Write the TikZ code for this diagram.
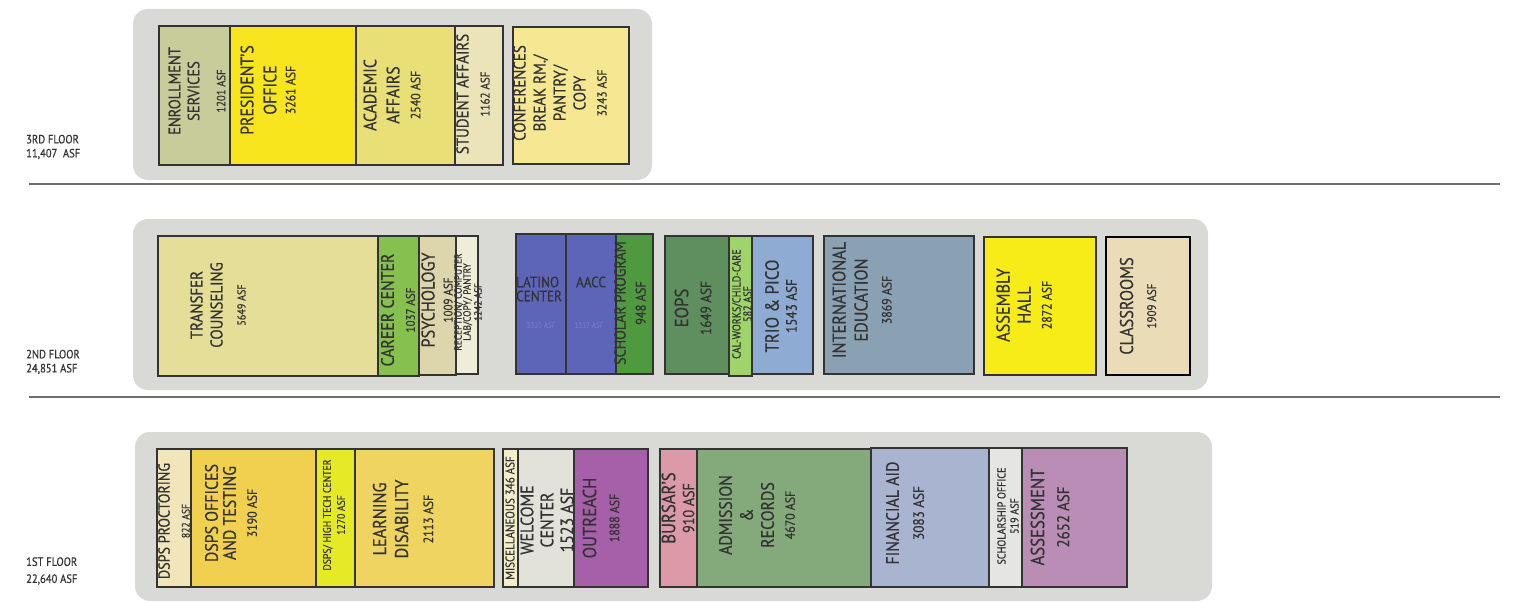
\documentclass[tikz,border=0pt]{standalone}
\usepackage{fontspec}
\setmainfont{PT Sans}[FakeStretch=0.88,FakeBold=0.6]
\newcommand{\fz}[2]{\fontsize{#1}{#2}\selectfont}
\definecolor{bgGray}{HTML}{D9D9D6}
\definecolor{lineGray}{HTML}{6E6E6E}
\definecolor{txt}{HTML}{333333}
\definecolor{edge}{HTML}{333333}
\definecolor{cEnr}{HTML}{C8CB9A}
\definecolor{cPres}{HTML}{F8E51E}
\definecolor{cAcad}{HTML}{E8DF76}
\definecolor{cStud}{HTML}{EBE4B8}
\definecolor{cConf}{HTML}{F6E892}
\definecolor{cTrans}{HTML}{E5DE98}
\definecolor{cCareer}{HTML}{86C04F}
\definecolor{cPsych}{HTML}{DDD5AB}
\definecolor{cRecep}{HTML}{EFECD8}
\definecolor{cLatino}{HTML}{5D65B9}
\definecolor{cLatinoT}{HTML}{7077C2}
\definecolor{cScholar}{HTML}{4F9A3F}
\definecolor{cEops}{HTML}{5F8E5F}
\definecolor{cCalw}{HTML}{9FD46B}
\definecolor{cTrio}{HTML}{8EABD4}
\definecolor{cIntl}{HTML}{8AA1B3}
\definecolor{cAssembly}{HTML}{F8EC18}
\definecolor{cClass}{HTML}{EBDCB8}
\definecolor{cProct}{HTML}{F0E6BA}
\definecolor{cDspsOff}{HTML}{F1D04F}
\definecolor{cHitech}{HTML}{E6EA26}
\definecolor{cLearn}{HTML}{F0D461}
\definecolor{cMisc}{HTML}{F2EECB}
\definecolor{cWelcome}{HTML}{E2E2DA}
\definecolor{cOutreach}{HTML}{A660A9}
\definecolor{cBursar}{HTML}{DC9AA8}
\definecolor{cAdmiss}{HTML}{84A97B}
\definecolor{cFinaid}{HTML}{A8B4D0}
\definecolor{cScholOff}{HTML}{E5E5E1}
\definecolor{cAssess}{HTML}{BA8DB7}
\begin{document}
\begin{tikzpicture}[x=1pt,y=-1pt,
  floorbg/.style={fill=bgGray, rounded corners=15pt},
  room/.style={draw=edge, line width=1.1pt},
  lbl/.style={rotate=90, align=center, text=txt, inner sep=0pt},
  hlbl/.style={align=left, text=txt, inner sep=0pt},
  floorlbl/.style={align=left, text=txt, inner sep=0pt, anchor=west, font=\fz{12}{14}},
  sep/.style={draw=lineGray, line width=2pt}]
\useasboundingbox (0,0) rectangle (1516,602);
\fill[white] (0,0) rectangle (1516,602);

% floor labels and separators
\node[floorlbl] (f3) at (26,147) {3RD FLOOR\\11,407~ ASF};
\node[floorlbl] (f2) at (26,362) {2ND FLOOR\\24,851 ASF};
\node[floorlbl] (f1) at (26,571) {1ST FLOOR\\[3pt]22,640 ASF};
\coordinate (s1a) at (29,184); \coordinate (s1b) at (1500,184);
\coordinate (s2a) at (29,397); \coordinate (s2b) at (1500,397);
\draw[sep] (s1a) -- (s1b);
\draw[sep] (s2a) -- (s2b);

% floor backgrounds
\fill[floorbg] (133,9) rectangle (652,180);
\fill[floorbg] (133,219) rectangle (1208,390);
\fill[floorbg] (135,432) rectangle (1212,601);

% ---------- 3rd floor ----------
\draw[room, fill=cEnr]  (159,26) rectangle (230,165);
\draw[room, fill=cPres] (230,26) rectangle (356,165);
\draw[room, fill=cAcad] (356,26) rectangle (455,165);
\draw[room, fill=cStud] (455,26) rectangle (503,165);
\draw[room, fill=cConf] (513,27) rectangle (629,164);

\node[lbl, font=\fz{16.5}{19}] (enr) at (197,91) {ENROLLMENT\\SERVICES\\[7pt]\fz{12}{19}1201 ASF};
\node[lbl, font=\fz{18}{23}] (pres) at (268,90) {PRESIDENT'S\\OFFICE\\[-4pt]\fz{13.5}{23}3261 ASF};
\node[lbl, font=\fz{18}{23}] (acad) at (392,95) {ACADEMIC\\AFFAIRS\\[-2pt]\fz{13.5}{23}2540 ASF};
\node[lbl, font=\fz{17}{21}] (stud) at (473,94) {STUDENT AFFAIRS\\[0pt]\fz{12.5}{21}1162 ASF};
\node[lbl, font=\fz{17}{20}] (conf) at (560,93) {CONFERENCES\\BREAK RM./\\PANTRY/\\COPY\\[1pt]\fz{13}{20}3243 ASF};

% ---------- 2nd floor ----------
\draw[room, fill=cTrans]   (158,236) rectangle (378,376);
\draw[room, fill=cCareer]  (378,236) rectangle (419,376);
\draw[room, fill=cPsych]   (419,236) rectangle (456,375);
\draw[room, fill=cRecep]   (456,236) rectangle (478,374);
\draw[room, fill=cLatino]  (516,234) rectangle (566,374);
\draw[room, fill=cLatino]  (566,234) rectangle (616,374);
\draw[room, fill=cScholar] (616,234) rectangle (653,374);
\draw[room, fill=cEops]    (665,236) rectangle (729,374);
\draw[room, fill=cCalw]    (729,236) rectangle (752,376);
\draw[room, fill=cTrio]    (752,236) rectangle (813,374);
\draw[room, fill=cIntl]    (824,236) rectangle (974,374);
\draw[room, fill=cAssembly](984,237) rectangle (1096,375);
\draw[draw=black, line width=2pt, fill=cClass] (1106,237) rectangle (1190,375);

\node[lbl, font=\fz{17}{20}] (trans) at (218,305) {TRANSFER\\COUNSELING\\[3pt]\fz{11.5}{20}5649 ASF};
\node[lbl, font=\fz{18}{21}] (career) at (398,310) {CAREER CENTER\\\fz{12.5}{21}1037 ASF};
\node[lbl, font=\fz{18.5}{18}] (psych) at (437,300) {PSYCHOLOGY\\\fz{12.5}{18}1009 ASF};
\node[lbl, font=\fz{10.5}{9}] (recep) at (468,302) {RECEPTION/ COMPUTER\\LAB/COPY/ PANTRY\\[2pt]1242 ASF};
\node[hlbl, anchor=west, font=\fz{15}{14}] (latino) at (516,289) {LATINO\\CENTER};
\node[hlbl, anchor=center, font=\fz{15}{14}] (aacc) at (591,282) {AACC};
\node[hlbl, anchor=center, text=cLatinoT, font=\fz{8}{9}] (latinoa) at (541,325) {3320 ASF};
\node[hlbl, anchor=center, text=cLatinoT, font=\fz{8}{9}] (aacca) at (589,325) {1317 ASF};
\node[lbl, font=\fz{16}{20}] (schol) at (630,303) {SCHOLAR PROGRAM\\\fz{14}{20}948 ASF};
\node[lbl, font=\fz{19}{23}] (eops) at (693,308) {EOPS\\\fz{15}{23}1649 ASF};
\node[lbl, font=\fz{11.5}{11}] (calw) at (742,304) {CAL-WORKS/CHILD-CARE\\582 ASF};
\node[lbl, font=\fz{19}{18}] (trio) at (781,306) {TRIO \& PICO\\\fz{15}{18}1543 ASF};
\node[lbl, font=\fz{18.5}{22}] (intl) at (862,300) {INTERNATIONAL\\EDUCATION\\[2pt]\fz{13.5}{22}3869 ASF};
\node[lbl, font=\fz{18.5}{21}] (assem) at (1024,305) {ASSEMBLY\\HALL\\\fz{13.5}{21}2872 ASF};
\node[lbl, font=\fz{18.5}{23}] (class) at (1138,306) {CLASSROOMS\\\fz{12.5}{23}1909 ASF};

% ---------- 1st floor ----------
\draw[room, fill=cProct]    (157,449) rectangle (191,587);
\draw[room, fill=cDspsOff]  (191,449) rectangle (316,587);
\draw[room, fill=cHitech]   (316,449) rectangle (355,587);
\draw[room, fill=cLearn]    (355,449) rectangle (494,587);
\draw[room, fill=cMisc]     (503,449) rectangle (518,587);
\draw[room, fill=cWelcome]  (518,449) rectangle (574,587);
\draw[room, fill=cOutreach] (574,449) rectangle (648,587);
\draw[room, fill=cBursar]   (660,449) rectangle (697,587);
\draw[room, fill=cAdmiss]   (697,449) rectangle (871,587);
\draw[room, fill=cFinaid]   (871,448) rectangle (989,587);
\draw[room, fill=cScholOff] (989,448) rectangle (1022,587);
\draw[room, fill=cAssess]   (1022,448) rectangle (1127,587);

\node[lbl, font=\fz{16}{20}] (proct) at (174,521) {DSPS PROCTORING\\\fz{11}{20}822 ASF};
\node[lbl, font=\fz{18}{18}] (dspsoff) at (231,513) {DSPS OFFICES\\AND TESTING\\[3pt]\fz{13.5}{18}3190 ASF};
\node[lbl, font=\fz{11}{14}] (hitech) at (334,515) {DSPS/ HIGH TECH CENTER\\1270 ASF};
\node[lbl, font=\fz{18.5}{22}] (learn) at (403,519) {LEARNING\\DISABILITY\\[3pt]\fz{13.5}{22}2113 ASF};
\node[lbl, font=\fz{12.5}{12}] (misc) at (510,518) {MISCELLANEOUS 346 ASF};
\node[lbl, font=\fz{18}{20}] (welc) at (547,520) {WELCOME\\CENTER\\1523 ASF};
\node[lbl, font=\fz{19}{23}] (outr) at (601,518) {OUTREACH\\\fz{13.5}{23}1888 ASF};
\node[lbl, font=\fz{19}{19}] (burs) at (678,508) {BURSAR'S\\\fz{16}{19}910 ASF};
\node[lbl, font=\fz{18}{21}] (adm) at (757,515) {ADMISSION\\\&\\RECORDS\\\fz{13.5}{21}4670 ASF};
\node[lbl, font=\fz{18}{25}] (fin) at (905,513) {FINANCIAL AID\\\fz{15}{25}3083 ASF};
\node[lbl, font=\fz{11.5}{13}] (scho) at (1008,516) {SCHOLARSHIP OFFICE\\519 ASF};
\node[lbl, font=\fz{19}{25}] (asse) at (1050,517) {ASSESSMENT\\\fz{17}{25}2652 ASF};
\end{tikzpicture}
\end{document}
